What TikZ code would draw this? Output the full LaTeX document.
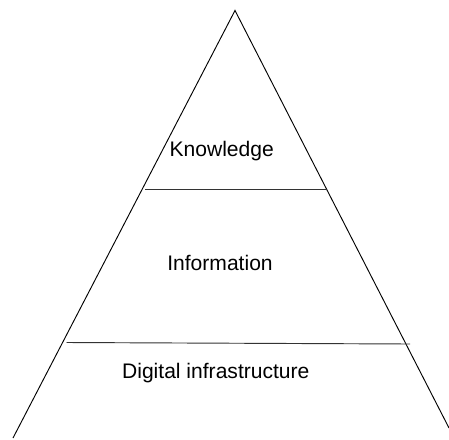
\documentclass[tikz,border=0pt]{standalone}
\usepackage{fontspec}
\setmainfont{Liberation Sans}
\usepackage{tikz}
\usetikzlibrary{positioning}
\tikzstyle{layer}=[inner sep=0pt,anchor=base,font=\fontsize{15.8}{18}\selectfont]
\tikzstyle{side}=[line width=0.7pt,black]
\tikzstyle{divider}=[line width=0.7pt,black!80]

\begin{document}
\begin{tikzpicture}[x=0.75pt,y=-0.75pt]

\useasboundingbox (0,0) rectangle (449,439);

% outline of the pyramid
\coordinate (top) at (235,10.5);
\coordinate (left) at (13,438);
\coordinate (right) at (449,428);
\draw [side] (left) -- (top) -- (right);

% borders between the levels
\coordinate (a1) at (145,189); \coordinate (a2) at (327,189);
\coordinate (b1) at (66.5,342.5); \coordinate (b2) at (410,344);
\draw [divider] (a1) -- (a2);
\draw [divider] (b1) -- (b2);

% level names
\node (knowledge) [layer] at (221.7,156.7) {Knowledge};
\node (information) [layer] at (220,270) {Information};
\node (infra) [layer] at (215.8,378.3) {Digital infrastructure};

\end{tikzpicture}
\end{document}
